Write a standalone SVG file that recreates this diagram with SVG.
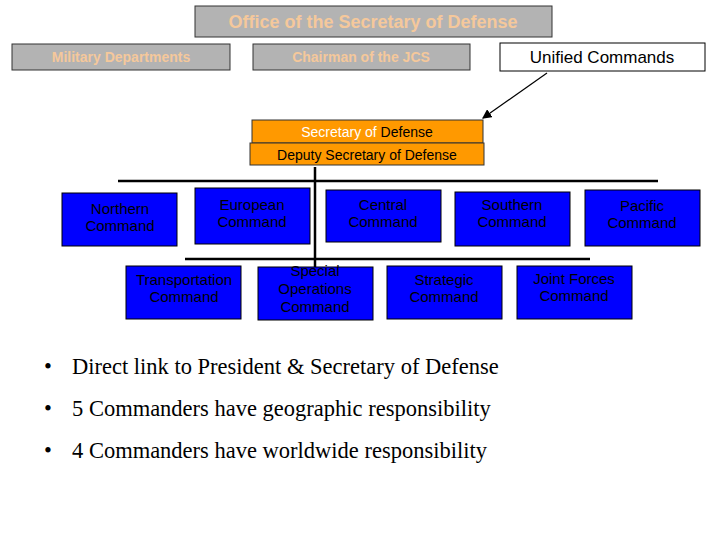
<svg xmlns="http://www.w3.org/2000/svg" width="720" height="540" viewBox="0 0 720 540">
<style>
.g{fill:#b3b3b3;stroke:#333;stroke-width:1}
.gt{font-family:"Liberation Sans",Arial,sans-serif;font-weight:bold;fill:#f5c89b;text-anchor:middle}
.b{fill:#0000ff;stroke:#000;stroke-width:1}
.bt{font-family:"Liberation Sans",Arial,sans-serif;font-size:15px;fill:#000;text-anchor:middle}
.o{fill:#ff9900;stroke:#333;stroke-width:1}
.ln{stroke:#000;stroke-width:2.5;fill:none}
.bul{font-family:"Liberation Serif","Times New Roman",serif;font-size:22.5px;fill:#000}
</style>
<defs><marker id="a" markerWidth="8" markerHeight="8" refX="7" refY="4" orient="auto"><path d="M0,0L8,4L0,8z" fill="#000"/></marker></defs>
<rect width="720" height="540" fill="#fff"/>
<g id="connectors">
<line class="ln" x1="315" y1="167" x2="315" y2="273"/>
<line class="ln" x1="118" y1="181" x2="658" y2="181"/>
<line class="ln" x1="185" y1="259" x2="590" y2="259"/>
<line x1="547" y1="73" x2="483" y2="118" stroke="#000" stroke-width="1.2" marker-end="url(#a)"/>
</g>
<g id="osd"><rect class="g" x="195" y="6" width="357" height="31"/><text class="gt" x="373" y="28" font-size="18">Office of the Secretary of Defense</text></g>
<g id="mil"><rect class="g" x="12" y="44" width="218" height="26"/><text class="gt" x="121" y="62" font-size="14">Military Departments</text></g>
<g id="cjcs"><rect class="g" x="253" y="44" width="217" height="26"/><text class="gt" x="361" y="62" font-size="14">Chairman of the JCS</text></g>
<g id="unified"><rect x="500" y="43" width="205" height="28" fill="#fff" stroke="#000"/><text x="602" y="63" font-family="Liberation Sans,Arial,sans-serif" font-size="17" text-anchor="middle">Unified Commands</text></g>
<g id="secdef"><rect class="o" x="252" y="120" width="231" height="23"/><text x="367" y="137" font-family="Liberation Sans,Arial,sans-serif" font-size="14" text-anchor="middle"><tspan fill="#fff">Secretary of </tspan><tspan fill="#000">Defense</tspan></text></g>
<g id="depsecdef"><rect class="o" x="250" y="143" width="234" height="22"/><text x="367" y="160" font-family="Liberation Sans,Arial,sans-serif" font-size="14" text-anchor="middle">Deputy Secretary of Defense</text></g>
<g id="northern"><rect class="b" x="62" y="193" width="115" height="53"/><text class="bt" x="120" y="214">Northern<tspan x="120" dy="17">Command</tspan></text></g>
<g id="european"><rect class="b" x="195" y="188" width="115" height="56"/><text class="bt" x="252" y="210">European<tspan x="252" dy="17">Command</tspan></text></g>
<g id="central"><rect class="b" x="326" y="190" width="115" height="52"/><text class="bt" x="383" y="210">Central<tspan x="383" dy="17">Command</tspan></text></g>
<g id="southern"><rect class="b" x="455" y="192" width="115" height="54"/><text class="bt" x="512" y="210">Southern<tspan x="512" dy="17">Command</tspan></text></g>
<g id="pacific"><rect class="b" x="585" y="190" width="115" height="56"/><text class="bt" x="642" y="211">Pacific<tspan x="642" dy="17">Command</tspan></text></g>
<g id="transportation"><rect class="b" x="126" y="266" width="115" height="53"/><text class="bt" x="184" y="285">Transportation<tspan x="184" dy="17">Command</tspan></text></g>
<g id="special"><rect class="b" x="258" y="267" width="115" height="53"/><text class="bt" x="315" y="276">Special<tspan x="315" dy="18">Operations</tspan><tspan x="315" dy="18">Command</tspan></text></g>
<g id="strategic"><rect class="b" x="387" y="266" width="115" height="53"/><text class="bt" x="444" y="285">Strategic<tspan x="444" dy="17">Command</tspan></text></g>
<g id="joint"><rect class="b" x="517" y="266" width="115" height="53"/><text class="bt" x="574" y="284">Joint Forces<tspan x="574" dy="17">Command</tspan></text></g>
<g class="bul">
<text x="44" y="374">•</text><text x="72" y="374">Direct link to President &amp; Secretary of Defense</text>
<text x="44" y="416">•</text><text x="72" y="416">5 Commanders have geographic responsibility</text>
<text x="44" y="458">•</text><text x="72" y="458">4 Commanders have worldwide responsibility</text>
</g>
</svg>
